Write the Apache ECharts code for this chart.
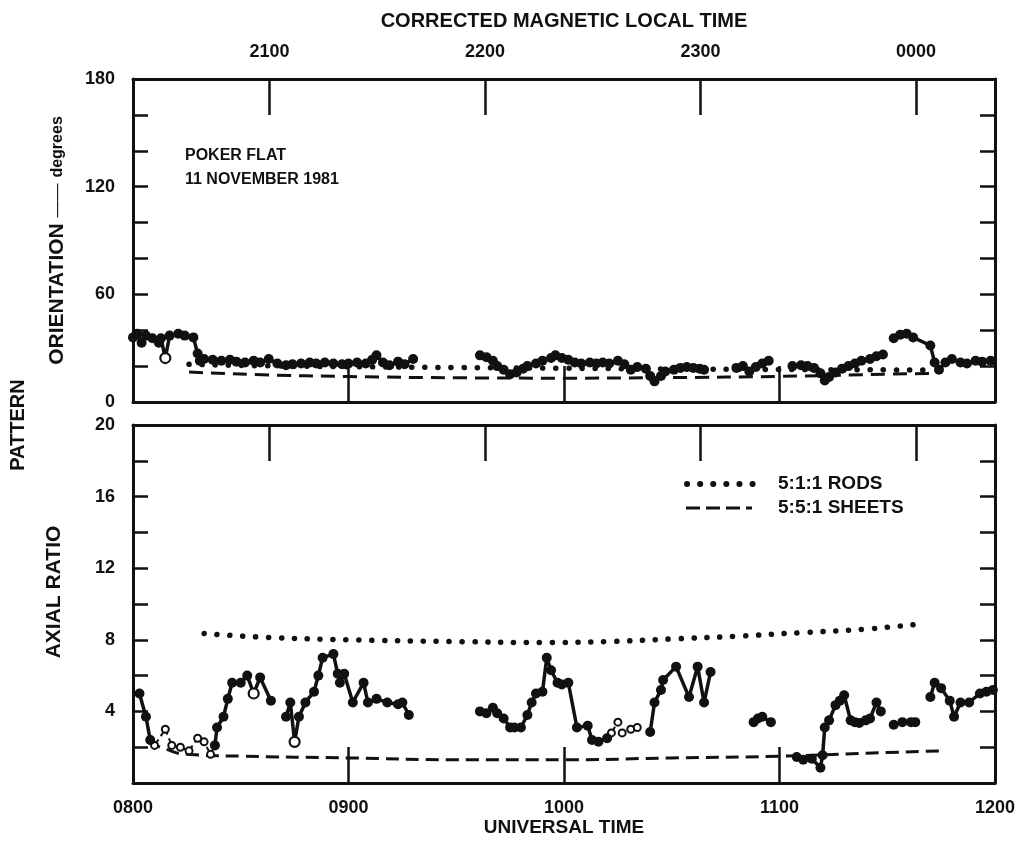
<!DOCTYPE html>
<html><head><meta charset="utf-8">
<script src="https://cdn.jsdelivr.net/npm/echarts@6/dist/echarts.min.js"></script>
<style>html,body{margin:0;padding:0;background:#fff}#c{width:1019px;height:863px}</style>
</head><body><div id="c"></div>
<script>
// ---------- DATA ----------
// Universal time in decimal hours; CMLT = UT + 12h22m
const cmltOffset = 12 + 22 / 60;
const utLabels = ['0800', '0900', '1000', '1100', '1200'];
const cmltTickValues = [21, 22, 23, 24];
const cmltLabels = ['2100', '2200', '2300', '0000'];
const orientLabels = [0, 60, 120, 180];
const axialLabels = [4, 8, 12, 16, 20];

// Orientation (degrees); null = data gap
const orientUT = [8.00, 8.02, 8.04, 8.06, 8.09, 8.12, 8.13, 8.15, 8.17, 8.21, 8.24, 8.28, 8.30, 8.31, 8.33, 8.37, 8.41, 8.45, 8.48, 8.52, 8.56, 8.59, 8.63, 8.67, 8.71, 8.74, 8.78, 8.82, 8.85, 8.89, 8.93, 8.97, 9.00, 9.04, 9.08, 9.11, 9.13, 9.16, 9.19, 9.23, 9.26, 9.30,
  9.45,
  9.61, 9.64, 9.67, 9.69, 9.72, 9.75, 9.78, 9.81, 9.83, 9.87, 9.90, 9.94, 9.96, 9.99, 10.02, 10.05, 10.08, 10.12, 10.15, 10.18, 10.21, 10.25, 10.28, 10.31, 10.34, 10.38, 10.40, 10.42, 10.45, 10.47, 10.51, 10.54, 10.57, 10.60, 10.63, 10.65,
  10.73,
  10.80, 10.83, 10.86, 10.89, 10.92, 10.95,
  11.01,
  11.06, 11.10, 11.13, 11.16, 11.19, 11.21, 11.23, 11.26, 11.29, 11.32, 11.35, 11.38, 11.42, 11.45, 11.48,
  11.50,
  11.53, 11.56, 11.59, 11.62, 11.70, 11.72, 11.74, 11.77, 11.80, 11.84, 11.87, 11.91, 11.94, 11.98];
const orientDeg = [36, 38, 33, 37, 35.5, 33, 35.5, 24.5, 37, 38, 37, 36, 27, 23, 24, 23.5, 23, 23.5, 22.5, 22, 23, 22, 24, 21.5, 20.5, 21, 21.5, 22, 21.5, 22, 21.5, 21, 21.5, 22, 21.5, 23.5, 26, 22, 20.5, 22.5, 21, 24,
  null,
  26, 25, 23, 20, 18, 15.5, 16.5, 18.5, 20, 21.5, 23, 24.5, 26, 24.5, 23.5, 22, 21.5, 22, 21.5, 22, 21.5, 23, 21, 18, 19.5, 18.5, 14.5, 11.5, 14.5, 17, 18, 19, 19.5, 19, 18.5, 18,
  null,
  19, 20, 17, 19.5, 21.5, 23,
  null,
  20, 20.5, 20, 19, 16, 12, 14, 16.5, 18.5, 20, 21.5, 23, 24, 25.5, 26.5,
  null,
  35.5, 37.5, 38, 36, 31.5, 22, 18, 22, 24, 22, 21.5, 23, 22.5, 23];
const orientHollow = [8.15];

// Model curves, orientation panel
const rodsOrientUT = [8.26, 8.6, 9.0, 9.5, 10.0, 10.5, 11.0, 11.5, 11.72];
const rodsOrientDeg = [21, 20.2, 19.7, 19.2, 18.8, 18.4, 18.1, 17.9, 17.8];
const sheetsOrientUT = [8.26, 8.6, 9.0, 9.5, 10.0, 10.5, 11.0, 11.5, 11.72];
const sheetsOrientDeg = [16.7, 15.2, 14.2, 13.5, 13.3, 13.6, 14.3, 15.5, 16.0];

// Axial ratio; null = data gap
const axialUT = [8.03, 8.06, 8.08,
  8.09,
  8.38, 8.39, 8.42, 8.44, 8.46, 8.50, 8.53, 8.56, 8.59, 8.64,
  8.68,
  8.71, 8.73, 8.75, 8.77, 8.80, 8.84, 8.86, 8.88, 8.93, 8.95, 8.96, 8.98, 9.02, 9.07, 9.09, 9.13, 9.18, 9.23, 9.25, 9.28,
  9.45,
  9.61, 9.64, 9.67, 9.69, 9.72, 9.75, 9.77, 9.80, 9.83, 9.85, 9.87, 9.90, 9.92, 9.94, 9.97, 9.99, 10.02, 10.06, 10.11, 10.13, 10.16, 10.20,
  10.30,
  10.40, 10.42, 10.45, 10.46, 10.52, 10.58, 10.62, 10.65, 10.68,
  10.80,
  10.88, 10.90, 10.92, 10.96,
  11.02,
  11.08, 11.11, 11.15, 11.19, 11.20, 11.21, 11.23, 11.26, 11.28, 11.30, 11.33, 11.35, 11.37, 11.40, 11.42, 11.45, 11.47,
  11.50,
  11.53, 11.57, 11.61, 11.63,
  11.66,
  11.70, 11.72, 11.75, 11.79, 11.81, 11.84, 11.88, 11.93, 11.96, 11.99];
const axialVal = [5.0, 3.7, 2.4,
  null,
  2.1, 3.1, 3.7, 4.7, 5.6, 5.6, 6.0, 5.0, 5.9, 4.6,
  null,
  3.7, 4.5, 2.3, 3.7, 4.5, 5.1, 6.0, 7.0, 7.2, 6.1, 5.6, 6.1, 4.5, 5.6, 4.5, 4.7, 4.5, 4.4, 4.5, 3.8,
  null,
  4.0, 3.9, 4.2, 3.9, 3.6, 3.1, 3.1, 3.1, 3.8, 4.5, 5.0, 5.1, 7.0, 6.3, 5.6, 5.5, 5.6, 3.1, 3.2, 2.4, 2.3, 2.5,
  null,
  2.85, 4.5, 5.2, 5.75, 6.5, 4.8, 6.5, 4.5, 6.2,
  null,
  3.4, 3.6, 3.7, 3.4,
  null,
  1.45, 1.3, 1.35, 0.85, 1.55, 3.1, 3.5, 4.35, 4.6, 4.9, 3.5, 3.4, 3.35, 3.5, 3.6, 4.5, 4.0,
  null,
  3.25, 3.4, 3.4, 3.4,
  null,
  4.8, 5.6, 5.3, 4.6, 3.7, 4.5, 4.5, 5.0, 5.1, 5.2];
const axialHollow = [8.56, 8.75];

// Uncertain (open-circle, dashed) axial ratio points
const axialOpenUT = [8.08, 8.10, 8.15, 8.18, 8.22, 8.26, 8.30, 8.33, 8.36, 8.38, 9.5, 10.20, 10.22, 10.25, 10.27, 10.31, 10.34];
const axialOpenVal = [2.4, 2.1, 3.0, 2.1, 2.0, 1.8, 2.5, 2.3, 1.6, 2.1, null, 2.5, 2.8, 3.4, 2.8, 3.0, 3.1];

// Model curves, axial ratio panel
const rodsAxialUT = [8.33, 8.6, 9.0, 9.5, 9.9, 10.2, 10.5, 10.8, 11.1, 11.4, 11.67];
const rodsAxialVal = [8.35, 8.15, 8.0, 7.9, 7.85, 7.9, 8.05, 8.2, 8.4, 8.6, 8.9];
const sheetsAxialUT = [8.07, 8.15, 8.25, 8.5, 9.0, 9.5, 10.0, 10.5, 11.0, 11.5, 11.77];
const sheetsAxialVal = [2.3, 1.9, 1.6, 1.5, 1.4, 1.3, 1.3, 1.4, 1.5, 1.7, 1.8];

const legendRods = '5:1:1 RODS';
const legendSheets = '5:5:1 SHEETS';
const siteLine1 = 'POKER FLAT';
const siteLine2 = '11 NOVEMBER 1981';

// ---------- CHART ----------
const FONT = "'Liberation Sans', Arial, sans-serif";
const BLACK = '#111';

function toPoints(ut, val, hollow) {
  return ut.map((t, i) => {
    if (val[i] === null) return [t, '-'];
    const item = { value: [t, val[i]] };
    if (hollow && hollow.includes(t)) item.itemStyle = { color: '#fff', borderColor: BLACK, borderWidth: 2.2 };
    return item;
  });
}
const pairs = (a, b) => a.map((t, i) => [t, b[i]]);

const axisLineStyle = { show: true, onZero: false, lineStyle: { color: BLACK, width: 3 } };
const labelStyle = { color: BLACK, fontFamily: FONT, fontWeight: 'bold', fontSize: 18 };

const utFmt = v => utLabels[Math.round(v) - 8] || '';
const cmltFmt = v => cmltLabels[cmltTickValues.indexOf(Math.round(v))] || '';

function utAxis(grid, showLabels) {
  return {
    type: 'value', gridIndex: grid, position: 'bottom', min: 8, max: 12, interval: 1,
    axisLine: axisLineStyle,
    axisTick: { show: true, inside: true, length: 36, lineStyle: { color: BLACK, width: 2.5 } },
    axisLabel: Object.assign({ show: showLabels, margin: 16, formatter: utFmt }, labelStyle),
    splitLine: { show: false },
    name: showLabels ? 'UNIVERSAL TIME' : '', nameLocation: 'middle', nameGap: 35,
    nameTextStyle: { color: BLACK, fontFamily: FONT, fontWeight: 'bold', fontSize: 19 }
  };
}
function cmltAxis(grid, showLabels) {
  return {
    type: 'value', gridIndex: grid, position: 'top', min: 8 + cmltOffset, max: 12 + cmltOffset,
    axisLine: axisLineStyle,
    axisTick: { show: true, inside: true, length: 36, customValues: cmltTickValues, lineStyle: { color: BLACK, width: 2.5 } },
    axisLabel: Object.assign({ show: showLabels, margin: 18, customValues: cmltTickValues, formatter: cmltFmt }, labelStyle),
    splitLine: { show: false },
    name: showLabels ? 'CORRECTED MAGNETIC LOCAL TIME' : '', nameLocation: 'middle', nameGap: 48,
    nameTextStyle: { color: BLACK, fontFamily: FONT, fontWeight: 'bold', fontSize: 20 }
  };
}
function yAxis(grid, pos, max, interval, labels, name, nameGap, namePad) {
  return {
    type: 'value', gridIndex: grid, position: pos, min: 0, max: max, interval: interval,
    axisLine: axisLineStyle,
    axisTick: { show: true, inside: true, length: 15, lineStyle: { color: BLACK, width: 2.5 } },
    axisLabel: Object.assign({ show: pos === 'left', margin: 18, formatter: v => labels.includes(v) ? String(v) : '' }, labelStyle),
    splitLine: { show: false },
    name: name || '', nameLocation: 'middle', nameRotate: 90, nameGap: nameGap || 0,
    nameTextStyle: {
      color: BLACK, fontFamily: FONT, fontWeight: 'bold', fontSize: 21,
      padding: namePad || 0,
      rich: {
        m: { fontFamily: FONT, fontWeight: 'normal', fontSize: 17, color: BLACK },
        d: { fontFamily: FONT, fontWeight: 'bold', fontSize: 16, color: BLACK }
      }
    }
  };
}

const dataLine = { color: BLACK, width: 3.5 };
const dataItem = { color: BLACK, borderColor: BLACK, borderWidth: 0 };

const option = {
  animation: false,
  backgroundColor: '#fff',
  grid: [
    { left: 133, top: 79, width: 862, height: 323 },
    { left: 133, top: 425, width: 862, height: 358 }
  ],
  xAxis: [utAxis(0, false), cmltAxis(0, true), utAxis(1, true), cmltAxis(1, false)],
  yAxis: [
    yAxis(0, 'left', 180, 20, orientLabels, 'ORIENTATION {m|——} {d|degrees}', 65),
    yAxis(0, 'right', 180, 20, orientLabels),
    yAxis(1, 'left', 20, 2, axialLabels, 'AXIAL RATIO', 68, [0, 0, 0, 24]),
    yAxis(1, 'right', 20, 2, axialLabels)
  ],
  series: [
    { type: 'line', xAxisIndex: 0, yAxisIndex: 0, data: pairs(rodsOrientUT, rodsOrientDeg), smooth: true, showSymbol: false, z: 1,
      lineStyle: { color: BLACK, width: 5.5, type: [0.1, 13], cap: 'round' } },
    { type: 'line', xAxisIndex: 0, yAxisIndex: 0, data: pairs(sheetsOrientUT, sheetsOrientDeg), smooth: true, showSymbol: false, z: 1,
      lineStyle: { color: BLACK, width: 3, type: [14, 8] } },
    { type: 'line', xAxisIndex: 0, yAxisIndex: 0, data: toPoints(orientUT, orientDeg, orientHollow), connectNulls: false,
      symbol: 'circle', symbolSize: 10, lineStyle: dataLine, itemStyle: dataItem, z: 3 },
    { type: 'line', xAxisIndex: 2, yAxisIndex: 2, data: pairs(rodsAxialUT, rodsAxialVal), smooth: true, showSymbol: false, z: 1,
      lineStyle: { color: BLACK, width: 5.5, type: [0.1, 12.8], cap: 'round' } },
    { type: 'line', xAxisIndex: 2, yAxisIndex: 2, data: pairs(sheetsAxialUT, sheetsAxialVal), smooth: true, showSymbol: false, z: 1,
      lineStyle: { color: BLACK, width: 3, type: [13, 7] } },
    { type: 'line', xAxisIndex: 2, yAxisIndex: 2, data: toPoints(axialOpenUT, axialOpenVal), connectNulls: false,
      symbol: 'circle', symbolSize: 7, lineStyle: { color: BLACK, width: 2, type: [5, 4] },
      itemStyle: { color: '#fff', borderColor: BLACK, borderWidth: 2 }, z: 2 },
    { type: 'line', xAxisIndex: 2, yAxisIndex: 2, data: toPoints(axialUT, axialVal, axialHollow), connectNulls: false,
      symbol: 'circle', symbolSize: 10, lineStyle: dataLine, itemStyle: dataItem, z: 3 }
  ],
  graphic: [
    { type: 'text', x: 18, y: 425, rotation: Math.PI / 2,
      style: { text: 'PATTERN', fill: BLACK, font: 'bold 20px ' + FONT, align: 'center', verticalAlign: 'middle' } },
    { type: 'text', x: 185, y: 156,
      style: { text: siteLine1, fill: BLACK, font: 'bold 16px ' + FONT, align: 'left', verticalAlign: 'middle' } },
    { type: 'text', x: 185, y: 180,
      style: { text: siteLine2, fill: BLACK, font: 'bold 16px ' + FONT, align: 'left', verticalAlign: 'middle' } },
    { type: 'polyline', shape: { points: [[687, 484], [755, 484]] },
      style: { stroke: BLACK, lineWidth: 6, lineDash: [0.1, 13], lineCap: 'round', fill: null } },
    { type: 'polyline', shape: { points: [[686, 508], [752, 508]] },
      style: { stroke: BLACK, lineWidth: 3, lineDash: [14, 6], fill: null } },
    { type: 'text', x: 778, y: 484,
      style: { text: legendRods, fill: BLACK, font: 'bold 19px ' + FONT, align: 'left', verticalAlign: 'middle' } },
    { type: 'text', x: 778, y: 508,
      style: { text: legendSheets, fill: BLACK, font: 'bold 19px ' + FONT, align: 'left', verticalAlign: 'middle' } }
  ]
};

const chart = echarts.init(document.getElementById('c'), null, { renderer: 'canvas' });
chart.setOption(option);
</script>
</body></html>
